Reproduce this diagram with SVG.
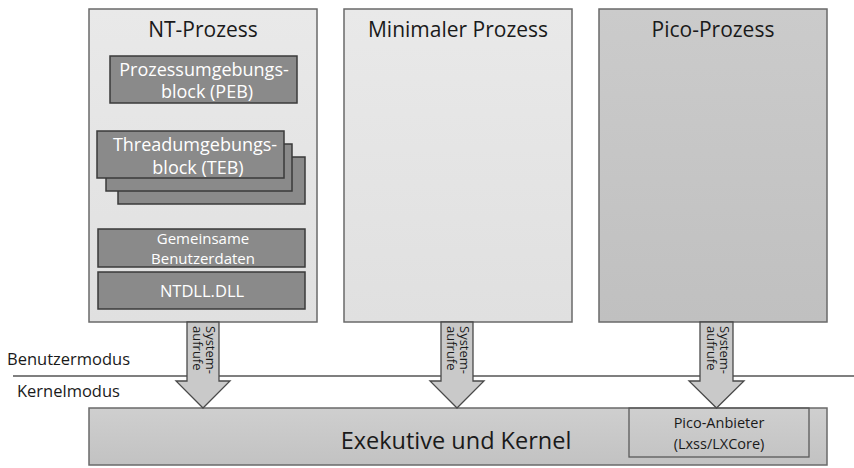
<svg xmlns="http://www.w3.org/2000/svg" width="854" height="468" viewBox="0 0 854 468">
<defs>
<linearGradient id="gLight" x1="0" y1="0" x2="0" y2="1"><stop offset="0" stop-color="#e9e9e9"/><stop offset="1" stop-color="#e0e0e0"/></linearGradient>
<linearGradient id="gDark" x1="0" y1="0" x2="0" y2="1"><stop offset="0" stop-color="#cbcbcb"/><stop offset="1" stop-color="#c0c0c0"/></linearGradient>
<linearGradient id="gKern" x1="0" y1="0" x2="0" y2="1"><stop offset="0" stop-color="#cfcfcf"/><stop offset="1" stop-color="#c2c2c2"/></linearGradient>
</defs>
<style>
text{font-family:"Open Sans","Liberation Sans",sans-serif;}
.proc{stroke:#6a6a6a;stroke-width:1.5;}
.inner{fill:#8a8a8a;stroke:#3a3a3a;stroke-width:1.5;}
.title{font-size:21px;fill:#1a1a1a;text-anchor:middle;}
.wt{font-size:18px;fill:#ffffff;text-anchor:middle;}
.wt2{font-size:14px;fill:#ffffff;text-anchor:middle;}
.lbl{font-size:16.5px;fill:#1a1a1a;}
.pa{font-size:14.5px;fill:#1a1a1a;text-anchor:middle;}
.arrow{fill:#c9c9c9;stroke:#4a4a4a;stroke-width:1.3;stroke-linejoin:miter;}
.at{font-size:13px;fill:#1a1a1a;}
.line{stroke:#555;stroke-width:1.3;}
</style>
<g id="nt-prozess">
<rect class="proc" x="89" y="9" width="228" height="313" fill="url(#gLight)"/>
<text class="title" x="203" y="37">NT-Prozess</text>
</g>
<g id="peb">
<rect class="inner" x="110" y="56" width="187" height="47"/>
<text class="wt" x="204" y="76">Prozessumgebungs-</text>
<text class="wt" x="207" y="98">block (PEB)</text>
</g>
<g id="teb">
<rect class="inner" x="118" y="157" width="187" height="47"/>
<rect class="inner" x="106" y="144" width="186" height="47"/>
<rect class="inner" x="97" y="131" width="187" height="47"/>
<text class="wt" x="195" y="151">Threadumgebungs-</text>
<text class="wt" x="198" y="174">block (TEB)</text>
</g>
<g id="gemeinsame">
<rect class="inner" x="98" y="229" width="207" height="38"/>
<text class="wt2" x="203" y="244" style="font-size:15px">Gemeinsame</text>
<text class="wt2" x="203" y="264" style="font-size:15px">Benutzerdaten</text>
</g>
<g id="ntdll">
<rect class="inner" x="98" y="272" width="207" height="37"/>
<text class="wt2" x="202" y="297" style="font-size:16.5px">NTDLL.DLL</text>
</g>
<g id="minimaler-prozess">
<rect class="proc" x="344" y="9" width="228" height="313" fill="url(#gLight)"/>
<text class="title" x="458" y="37">Minimaler Prozess</text>
</g>
<g id="pico-prozess">
<rect class="proc" x="599" y="9" width="228" height="313" fill="url(#gDark)"/>
<text class="title" x="713" y="37">Pico-Prozess</text>
</g>
<g id="modes">
<line class="line" x1="13" y1="376" x2="854" y2="376"/>
<text class="lbl" x="7" y="365">Benutzermodus</text>
<text class="lbl" x="17" y="397">Kernelmodus</text>
</g>
<g id="exekutive">
<rect class="proc" x="89" y="408" width="738" height="57" fill="url(#gKern)"/>
<text class="title" x="456" y="449" style="font-size:23.5px">Exekutive und Kernel</text>
</g>
<g id="pico-anbieter">
<rect x="629" y="408" width="180" height="49" fill="none" stroke="#5a5a5a" stroke-width="1.3"/>
<text class="pa" x="719" y="428">Pico-Anbieter</text>
<text class="pa" x="719" y="449">(Lxss/LXCore)</text>
</g>
<g id="connectors">
<g id="arrow-nt">
<path class="arrow" d="M187,322 H219 V381 H230 L203,408 L176,381 H187 Z"/>
<g transform="translate(203,326) rotate(90)"><text class="at" x="0" y="-3">System-</text><text class="at" x="0" y="10">aufrufe</text></g>
</g>
<g id="arrow-min">
<path class="arrow" d="M441,322 H473 V381 H484 L457,408 L430,381 H441 Z"/>
<g transform="translate(457,326) rotate(90)"><text class="at" x="0" y="-3">System-</text><text class="at" x="0" y="10">aufrufe</text></g>
</g>
<g id="arrow-pico">
<path class="arrow" d="M700,322 H733 V381 H744 L716.5,408 L689,381 H700 Z"/>
<g transform="translate(716.5,326) rotate(90)"><text class="at" x="0" y="-3">System-</text><text class="at" x="0" y="10">aufrufe</text></g>
</g>
</g>
</svg>
